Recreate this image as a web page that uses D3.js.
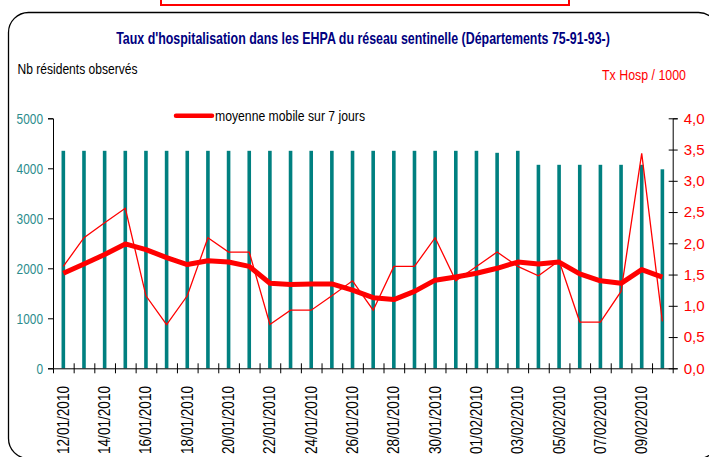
<!DOCTYPE html>
<html>
<head>
<meta charset="utf-8">
<script src="https://cdn.jsdelivr.net/npm/d3@7/dist/d3.min.js"></script>
<style>
  html, body { margin: 0; padding: 0; background: #ffffff; }
  svg { display: block; font-family: "Liberation Sans", Arial, sans-serif; }
</style>
</head>
<body>
<svg id="chart" width="709" height="457"></svg>
<script>
// ---- data ----
const dates = ["12/01/2010","13/01/2010","14/01/2010","15/01/2010","16/01/2010","17/01/2010",
  "18/01/2010","19/01/2010","20/01/2010","21/01/2010","22/01/2010","23/01/2010","24/01/2010",
  "25/01/2010","26/01/2010","27/01/2010","28/01/2010","29/01/2010","30/01/2010","31/01/2010",
  "01/02/2010","02/02/2010","03/02/2010","04/02/2010","05/02/2010","06/02/2010","07/02/2010",
  "08/02/2010","09/02/2010","10/02/2010"];
const residents = [4350,4350,4350,4350,4350,4350,4350,4350,4350,4350,4350,4350,4350,4350,4350,
  4350,4350,4350,4350,4350,4350,4310,4350,4070,4070,4070,4070,4070,4070,3980];
const dailyRate = [1.63,2.09,2.33,2.56,1.16,0.70,1.16,2.09,1.86,1.86,0.70,0.93,0.93,1.16,1.40,
  0.93,1.63,1.63,2.09,1.40,1.63,1.86,1.63,1.48,1.72,0.74,0.74,1.23,3.44,0.75];
const movingAvg = [1.52,1.67,1.82,1.99,1.90,1.77,1.66,1.72,1.70,1.63,1.36,1.34,1.35,1.35,1.25,
  1.13,1.10,1.23,1.41,1.46,1.52,1.60,1.70,1.67,1.70,1.51,1.40,1.36,1.58,1.46];
const leftTicks = [0,1000,2000,3000,4000,5000];
const rightTicks = [0,0.5,1,1.5,2,2.5,3,3.5,4];
const labelDates = dates.filter((d, i) => i % 2 === 0);

const titleText = "Taux d'hospitalisation dans les EHPA du réseau sentinelle (Départements 75-91-93-)";
const leftTitle = "Nb résidents observés";
const rightTitle = "Tx Hosp / 1000";
const legendText = "moyenne mobile sur 7 jours";

// ---- layout ----
const svg = d3.select("#chart");
const plot = { left: 53, right: 672.7, top: 118.3, bottom: 368.3 };
const teal = "#008080";
const tealText = "#2a8c8c";
const red = "#ff0000";

// frame + red box
svg.append("rect").attr("x", 161).attr("y", -10).attr("width", 408).attr("height", 15)
  .attr("fill", "none").attr("stroke", red).attr("stroke-width", 2);
svg.append("rect").attr("x", 8.5).attr("y", 12.5).attr("width", 710).attr("height", 446)
  .attr("rx", 20).attr("ry", 20).attr("fill", "none").attr("stroke", "#000").attr("stroke-width", 1.3);

// scales
const x = d3.scaleBand().domain(dates).range([plot.left, plot.right]).padding(0);
const xIdx = d3.scaleLinear().domain([0, dates.length]).range([plot.left, plot.right]);
const yL = d3.scaleLinear().domain([0, 5000]).range([plot.bottom, plot.top]);
const yR = d3.scaleLinear().domain([0, 4]).range([plot.bottom, plot.top]);
const cx = d => x(d) + x.bandwidth() / 2;

// bars
svg.append("g").selectAll("rect").data(dates).join("rect")
  .attr("x", d => cx(d) - 1.8)
  .attr("width", 3.6)
  .attr("y", (d, i) => yL(residents[i]))
  .attr("height", (d, i) => yL(0) - yL(residents[i]))
  .attr("fill", teal);

// left axis
const gL = svg.append("g").attr("transform", `translate(${plot.left},0)`)
  .call(d3.axisLeft(yL).tickValues(leftTicks).tickSize(5).tickPadding(5).tickFormat(d3.format("d")));
gL.select(".domain").attr("stroke", "#000");
gL.selectAll(".tick line").attr("stroke", "#000");
gL.selectAll(".tick text").attr("fill", tealText).attr("font-size", 15)
  .attr("font-family", "'Liberation Sans', Arial, sans-serif")
  .each(function(d) { d3.select(this).attr("textLength", String(d).length * 6.6).attr("lengthAdjust", "spacingAndGlyphs"); });

// right axis
const gR = svg.append("g").attr("transform", `translate(${plot.right},0)`)
  .call(d3.axisRight(yR).tickValues(rightTicks).tickSize(5).tickPadding(6)
    .tickFormat(d => d3.format(".1f")(d).replace(".", ",")));
gR.select(".domain").attr("stroke", "#000");
gR.selectAll(".tick line").attr("stroke", "#000").attr("x1", -4).attr("x2", 5);
gR.selectAll(".tick text").attr("fill", red).attr("font-size", 15)
  .attr("font-family", "'Liberation Sans', Arial, sans-serif")
  .attr("textLength", 21).attr("lengthAdjust", "spacingAndGlyphs");

// bottom axis (ticks at band boundaries)
const gB = svg.append("g").attr("transform", `translate(0,${plot.bottom})`)
  .call(d3.axisBottom(xIdx).tickValues(d3.range(1, dates.length)).tickSize(5).tickFormat(""));
gB.select(".domain").attr("stroke", "#000");
gB.selectAll(".tick line").attr("stroke", "#000").attr("y1", -5).attr("y2", 5);

// x labels
svg.append("g").selectAll("text").data(labelDates).join("text")
  .attr("transform", d => `translate(${cx(d) + 5.5},386) rotate(-90)`)
  .attr("text-anchor", "end")
  .attr("font-size", 16)
  .attr("fill", "#000")
  .attr("textLength", 68).attr("lengthAdjust", "spacingAndGlyphs")
  .text(d => d);

// daily rate line
svg.append("path").datum(dailyRate)
  .attr("fill", "none").attr("stroke", red).attr("stroke-width", 1.3)
  .attr("d", d3.line().x((d, i) => cx(dates[i])).y(d => yR(d)));

// moving average line
svg.append("path").datum(movingAvg)
  .attr("fill", "none").attr("stroke", red).attr("stroke-width", 5).attr("stroke-linejoin", "round")
  .attr("d", d3.line().x((d, i) => cx(dates[i])).y(d => yR(d)));

// titles
svg.append("text").attr("transform", "translate(363,43.5) scale(0.776,1)").attr("text-anchor", "middle")
  .attr("font-size", 16).attr("font-weight", "bold").attr("fill", "#000080")
  .text(titleText);
svg.append("text").attr("x", 17.5).attr("y", 73.5).attr("font-size", 14).attr("fill", "#000")
  .attr("textLength", 120).attr("lengthAdjust", "spacingAndGlyphs").text(leftTitle);
svg.append("text").attr("x", 602).attr("y", 80).attr("font-size", 14).attr("fill", red)
  .attr("textLength", 84).attr("lengthAdjust", "spacingAndGlyphs").text(rightTitle);

// legend
svg.append("line").attr("x1", 176).attr("x2", 212).attr("y1", 115.7).attr("y2", 115.7)
  .attr("stroke", red).attr("stroke-width", 4.5).attr("stroke-linecap", "round");
svg.append("text").attr("x", 215).attr("y", 120.7).attr("font-size", 14).attr("fill", "#000")
  .attr("textLength", 150).attr("lengthAdjust", "spacingAndGlyphs").text(legendText);
</script>
</body>
</html>
